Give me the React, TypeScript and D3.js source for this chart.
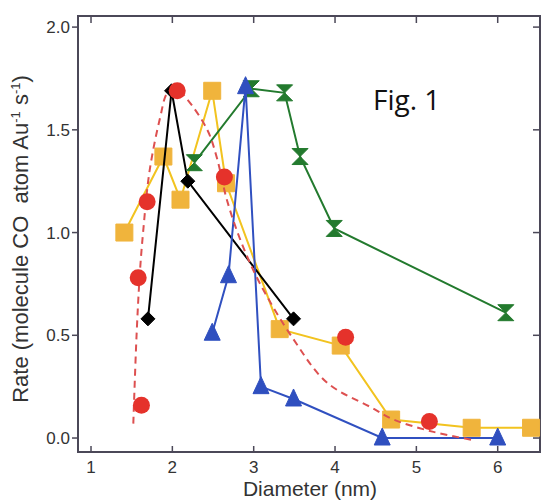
import * as d3 from "d3"
import React from "react"

// diameters (nm) and rates
const redX = [1.58, 1.62, 1.69, 2.06, 2.64, 4.13, 5.16]
const redY = [0.78, 0.16, 1.15, 1.69, 1.27, 0.49, 0.08]

const fitX = [1.52, 1.56, 1.6, 1.64, 1.72, 1.85, 1.94, 2.05, 2.18, 2.43, 2.55, 2.67, 2.85, 3.08, 3.49, 3.9, 4.44, 4.72, 5.21, 5.7]
const fitY = [0.07, 0.5, 0.8, 1.0, 1.3, 1.56, 1.68, 1.7, 1.65, 1.5, 1.36, 1.16, 0.95, 0.75, 0.48, 0.27, 0.15, 0.09, 0.03, -0.01]

const yellowX = [1.41, 1.89, 2.1, 2.49, 2.66, 3.32, 4.07, 4.69, 5.68, 6.41]
const yellowY = [1.0, 1.37, 1.16, 1.69, 1.24, 0.53, 0.45, 0.09, 0.05, 0.05]

const blackX = [1.7, 1.99, 2.19, 3.49]
const blackY = [0.58, 1.69, 1.25, 0.58]

const blueX = [2.49, 2.69, 2.9, 3.09, 3.49, 4.58, 6.0]
const blueY = [0.51, 0.79, 1.71, 0.25, 0.19, 0.0, 0.0]

const greenX = [2.27, 2.97, 3.38, 3.57, 3.99, 6.1]
const greenY = [1.34, 1.7, 1.68, 1.37, 1.02, 0.61]

const xTicks = [1, 2, 3, 4, 5, 6]
const yTicks = [0, 0.5, 1.0, 1.5, 2.0]

const W = 541
const H = 503
const box = { left: 78, top: 16, right: 540, bottom: 452 }

const x = d3.scaleLinear().domain([0.84, 6.52]).range([box.left, box.right])
const y = d3.scaleLinear().domain([-0.068, 2.054]).range([box.bottom, box.top])

const zip = (xs: number[], ys: number[]) => xs.map((v, i) => [v, ys[i]] as [number, number])

const line = d3.line<[number, number]>().x(d => x(d[0])).y(d => y(d[1]))
const smooth = d3.line<[number, number]>().x(d => x(d[0])).y(d => y(d[1])).curve(d3.curveCatmullRom)

const marker = (shape: string, cx: number, cy: number) => {
    if (shape === "square") return `M${cx - 8.5},${cy - 8.5}h17v17h-17Z`
    if (shape === "diamond") return `M${cx},${cy - 7}L${cx + 7},${cy}L${cx},${cy + 7}L${cx - 7},${cy}Z`
    if (shape === "triangle") return `M${cx},${cy - 10}L${cx + 8},${cy + 7}L${cx - 8},${cy + 7}Z`
    // hourglass
    return `M${cx - 8},${cy - 8}L${cx + 8},${cy - 8}L${cx},${cy}L${cx + 8},${cy + 8}L${cx - 8},${cy + 8}L${cx},${cy}Z`
}

const Series = ({ xs, ys, lineColor, fill, shape }: any) => {
    const pts = zip(xs, ys)
    return (
        <g>
            <path d={line(pts) || ""} fill="none" stroke={lineColor} strokeWidth={2} />
            {pts.map((p, i) => (
                <path key={i} d={marker(shape, x(p[0]), y(p[1]))} fill={fill} stroke={fill} strokeWidth={1} />
            ))}
        </g>
    )
}

export default function App() {
    const axisColor = "#4b4858"
    const txt = "#333"
    return (
        <svg width={W} height={H} style={{ position: "absolute", left: 0, top: 0, background: "#fff" }}
             fontFamily="'Liberation Sans', Arial, sans-serif">
            <rect x={box.left} y={box.top} width={box.right - box.left} height={box.bottom - box.top}
                  fill="none" stroke={axisColor} strokeWidth={2} />

            {xTicks.map(t => (
                <g key={"x" + t}>
                    <line x1={x(t)} x2={x(t)} y1={box.bottom} y2={box.bottom - 6} stroke={axisColor} strokeWidth={1.5} />
                    <line x1={x(t)} x2={x(t)} y1={box.top} y2={box.top + 7} stroke={axisColor} strokeWidth={1.5} />
                    <text x={x(t)} y={473} textAnchor="middle" fontSize={17} fill={txt}>{t}</text>
                </g>
            ))}
            {yTicks.map(t => (
                <g key={"y" + t}>
                    <line x1={box.left} x2={box.left - 6} y1={y(t)} y2={y(t)} stroke={axisColor} strokeWidth={1.5} />
                    <line x1={box.right} x2={box.right - 7} y1={y(t)} y2={y(t)} stroke={axisColor} strokeWidth={1.5} />
                    <text x={70} y={y(t) + 6} textAnchor="end" fontSize={17} fill={txt}>{t.toFixed(1)}</text>
                </g>
            ))}

            <text x={310} y={496} textAnchor="middle" fontSize={21} fill={txt}>Diameter (nm)</text>
            <text transform={`translate(28,${239}) rotate(-90)`} textAnchor="middle" fontSize={22} fill={txt}>
                Rate (molecule CO{"\u00a0\u00a0"}atom Au<tspan dy={-8} fontSize={13}>-1</tspan>
                <tspan dy={8}> s</tspan><tspan dy={-8} fontSize={13}>-1</tspan><tspan dy={8}>)</tspan>
            </text>

            <Series xs={yellowX} ys={yellowY} lineColor="#f2c31f" fill="#f0b43c" shape="square" />
            <Series xs={blackX} ys={blackY} lineColor="#000" fill="#000" shape="diamond" />
            <Series xs={greenX} ys={greenY} lineColor="#237a2e" fill="#237a2e" shape="hourglass" />
            <Series xs={blueX} ys={blueY} lineColor="#3050c0" fill="#2f4fbf" shape="triangle" />

            <path d={smooth(zip(fitX, fitY)) || ""} fill="none" stroke="#dd5050" strokeWidth={2} strokeDasharray="7,5" />
            {zip(redX, redY).map((p, i) => (
                <circle key={i} cx={x(p[0])} cy={y(p[1])} r={8.5} fill="#e5322b" />
            ))}

            <text x={373} y={110} fontSize={28} fill="#111" fontFamily="'Open Sans', 'Noto Sans', sans-serif">Fig. 1</text>
        </svg>
    )
}
